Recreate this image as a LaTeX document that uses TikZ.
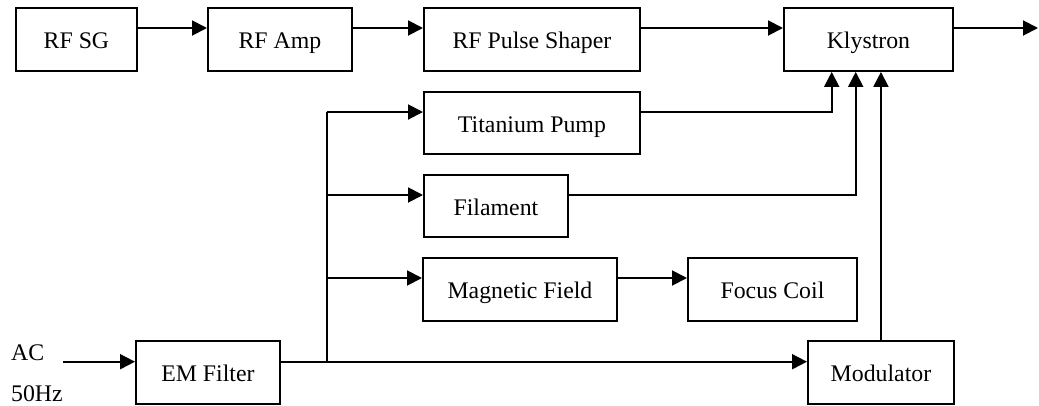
\documentclass[tikz,border=0pt]{standalone}
\usepackage{fontspec}
\setmainfont{Liberation Serif}
\usetikzlibrary{arrows.meta,calc}
\begin{document}
\begin{tikzpicture}[x=1pt,y=-1pt,
  txt/.style={font=\fontsize{23.8}{28}\selectfont},
  blk/.style={txt, draw, line width=1.9pt, inner sep=0pt, anchor=north west,
    minimum height=63pt, text height=20pt, text depth=1.4pt},
  conn/.style={line width=1.9pt},
  arr/.style={conn, -{Triangle[length=15pt,width=15pt]}}]
\useasboundingbox (0,0) rectangle (1039,405);
% top row
\node[blk, minimum width=121pt] (sg) at (15,7) {RF SG};
\node[blk, minimum width=144pt] (amp) at (207,7) {RF Amp};
\node[blk, minimum width=216pt] (ps) at (423,7) {RF Pulse Shaper};
\node[blk, minimum width=169pt] (kly) at (783,7) {Klystron};
% middle
\node[blk, minimum width=216pt, minimum height=62pt] (ti) at (423,91) {Titanium Pump};
\node[blk, minimum width=144pt, minimum height=62pt] (fil) at (423,174) {Filament};
\node[blk, minimum width=194pt] (mag) at (422,257) {Magnetic Field};
\node[blk, minimum width=169pt] (foc) at (687,257) {Focus Coil};
% bottom
\node[blk, minimum width=144pt] (em) at (135,340) {EM Filter};
\node[blk, minimum width=146pt] (mod) at (807,340) {Modulator};
% labels
\node[txt, anchor=west, inner sep=0pt] (ac) at (11,353) {AC};
\node[txt, anchor=west, inner sep=0pt] (hz) at (11,394) {50Hz};
\coordinate (acin) at (62.7,361.7);
\coordinate (out) at (1038,28);
\coordinate (bus) at (326.7,361.7);
% top row connectors
\draw[arr] ([yshift=-21pt]sg.north east) -- ([yshift=-21pt]amp.north west);
\draw[arr] ([yshift=-21pt]amp.north east) -- ([yshift=-21pt]ps.north west);
\draw[arr] ([yshift=-21pt]ps.north east) -- ([yshift=-21pt]kly.north west);
\draw[arr] ([yshift=-21pt]kly.north east) -- (out);
% into klystron from below
\draw[arr] ([yshift=-21pt]ti.north east) -| ([xshift=48.7pt]kly.south west);
\draw[arr] ([yshift=-21pt]fil.north east) -| ([xshift=72.7pt]kly.south west);
\draw[arr] (mod.north) -- (mod.north |- kly.south);
% AC input
\draw[arr] (acin) -- (acin -| em.west);
% bus
\draw[arr] ([yshift=-21.7pt]em.north east) -- ([yshift=-21.7pt]mod.north west);
\coordinate (tiin) at ([yshift=-21pt]ti.north west);
\coordinate (filin) at ([yshift=-21pt]fil.north west);
\coordinate (magin) at ([yshift=-21pt]mag.north west);
\draw[conn] (bus) -- (bus |- tiin);
\draw[arr] (bus |- tiin) -- (tiin);
\draw[arr] (bus |- filin) -- (filin);
\draw[arr] (bus |- magin) -- (magin);
\draw[arr] (magin -| mag.east) -- (magin -| foc.west);
\end{tikzpicture}
\end{document}
